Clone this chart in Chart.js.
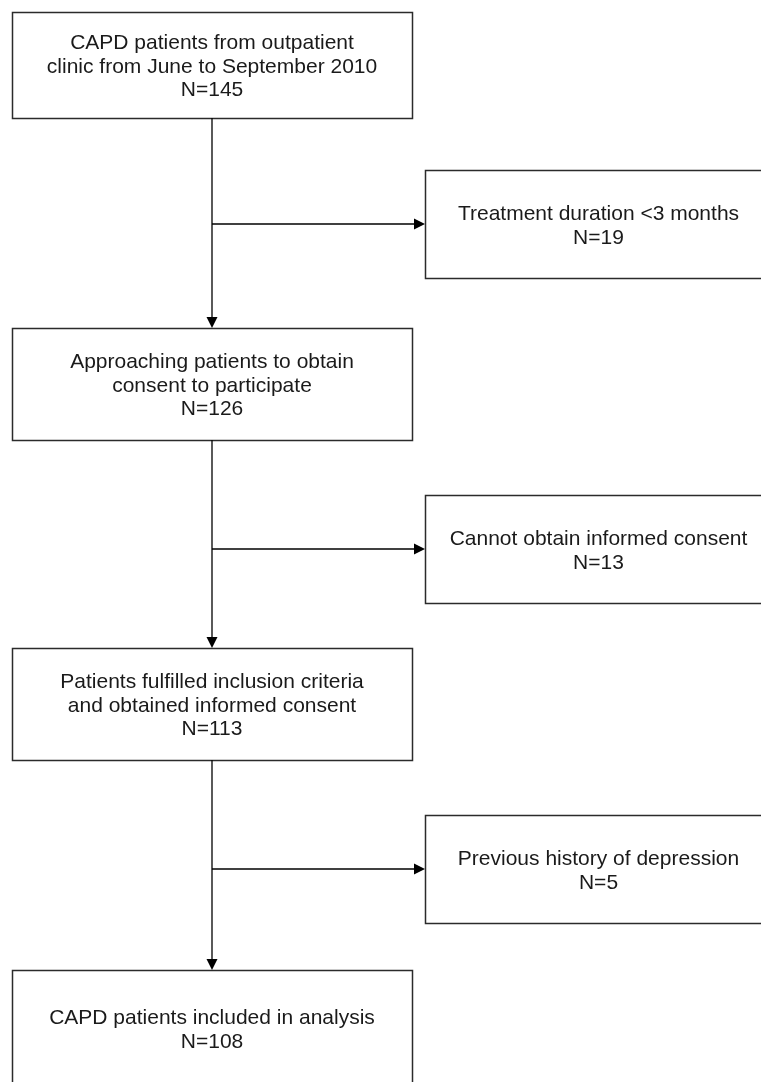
<!DOCTYPE html>
<html>
<head>
<meta charset="utf-8">
<script src="https://cdn.jsdelivr.net/npm/chart.js@4"></script>
<style>
  html, body { margin: 0; padding: 0; background: #ffffff; }
  #wrap { width: 761px; height: 1082px; overflow: hidden; }
  canvas { display: block; }
</style>
</head>
<body>
<div id="wrap"><canvas id="c" width="761" height="1082"></canvas></div>
<script>
// ---- data ----
const stageLabels = [
  ["CAPD patients from outpatient", "clinic from June to September 2010"],
  ["Approaching patients to obtain", "consent to participate"],
  ["Patients fulfilled inclusion criteria", "and obtained informed consent"],
  ["CAPD patients included in analysis"]
];
const stageCounts = [145, 126, 113, 108];
const exclusionLabels = [
  "Treatment duration <3 months",
  "Cannot obtain informed consent",
  "Previous history of depression"
];
const exclusionCounts = [19, 13, 5];

// ---- layout (in scale units) ----
const mainTops = [12, 328, 648, 970];
const mainHeights = [106, 112, 112, 116];
const mainLeft = 12, mainRight = 412, spineX = 212;
const sideTops = [170, 495, 815];
const sideHeight = 108;
const sideLeft = 425, sideRight = 772;

const FONT = '21px "Liberation Sans", Arial, sans-serif';
const LINE_H = 23.5;

const flowPlugin = {
  id: 'flow',
  afterDatasetsDraw(chart) {
    const ctx = chart.ctx;
    const xs = chart.scales.x, ys = chart.scales.y;
    const X = v => xs.getPixelForValue(v);
    const Y = v => ys.getPixelForValue(v);
    ctx.save();

    function box(x0, y0, x1, y1) {
      ctx.strokeStyle = '#2b2b2b';
      ctx.lineWidth = 1.5;
      ctx.strokeRect(Math.round(X(x0)) + 0.5, Math.round(Y(y0)) + 0.5,
                     Math.round(X(x1) - X(x0)), Math.round(Y(y1) - Y(y0)));
    }
    function text(lines, cx, cy) {
      ctx.fillStyle = '#1a1a1a';
      ctx.font = FONT;
      ctx.textAlign = 'center';
      ctx.textBaseline = 'middle';
      const n = lines.length;
      lines.forEach((t, i) => {
        ctx.fillText(t, X(cx), Y(cy) + (i - (n - 1) / 2) * LINE_H);
      });
    }
    function line(x0, y0, x1, y1) {
      ctx.strokeStyle = '#000';
      ctx.lineWidth = 1.3;
      ctx.beginPath();
      ctx.moveTo(X(x0), Y(y0));
      ctx.lineTo(X(x1), Y(y1));
      ctx.stroke();
    }
    function arrowDown(x, tipY) {
      ctx.fillStyle = '#000';
      ctx.beginPath();
      ctx.moveTo(X(x), Y(tipY));
      ctx.lineTo(X(x) - 5.5, Y(tipY) - 11);
      ctx.lineTo(X(x) + 5.5, Y(tipY) - 11);
      ctx.closePath();
      ctx.fill();
    }
    function arrowRight(tipX, y) {
      ctx.fillStyle = '#000';
      ctx.beginPath();
      ctx.moveTo(X(tipX), Y(y));
      ctx.lineTo(X(tipX) - 11, Y(y) - 5.5);
      ctx.lineTo(X(tipX) - 11, Y(y) + 5.5);
      ctx.closePath();
      ctx.fill();
    }

    // main stages
    stageLabels.forEach((lbl, i) => {
      const top = mainTops[i], bot = top + mainHeights[i];
      box(mainLeft, top, mainRight, bot);
      text(lbl.concat(['N=' + stageCounts[i]]), spineX, (top + bot) / 2 + 2);
    });
    // connectors
    for (let i = 0; i < stageLabels.length - 1; i++) {
      const from = mainTops[i] + mainHeights[i];
      const to = mainTops[i + 1];
      line(spineX, from, spineX, to - 6);
      arrowDown(spineX, to);
    }
    // exclusions
    exclusionLabels.forEach((lbl, i) => {
      const top = sideTops[i], bot = top + sideHeight;
      const midY = (top + bot) / 2;
      box(sideLeft, top, sideRight, bot);
      text([lbl, 'N=' + exclusionCounts[i]], (sideLeft + sideRight) / 2, midY + 2);
      line(spineX, midY, sideLeft - 6, midY);
      arrowRight(sideLeft, midY);
    });
    ctx.restore();
  }
};

new Chart(document.getElementById('c'), {
  type: 'scatter',
  data: { datasets: [{ data: [] }] },
  options: {
    responsive: false,
    animation: false,
    devicePixelRatio: 1,
    layout: { padding: 0 },
    plugins: { legend: { display: false }, tooltip: { enabled: false } },
    scales: {
      x: { type: 'linear', min: 0, max: 761, display: false },
      y: { type: 'linear', min: 0, max: 1082, reverse: true, display: false }
    }
  },
  plugins: [flowPlugin]
});
</script>
</body>
</html>
